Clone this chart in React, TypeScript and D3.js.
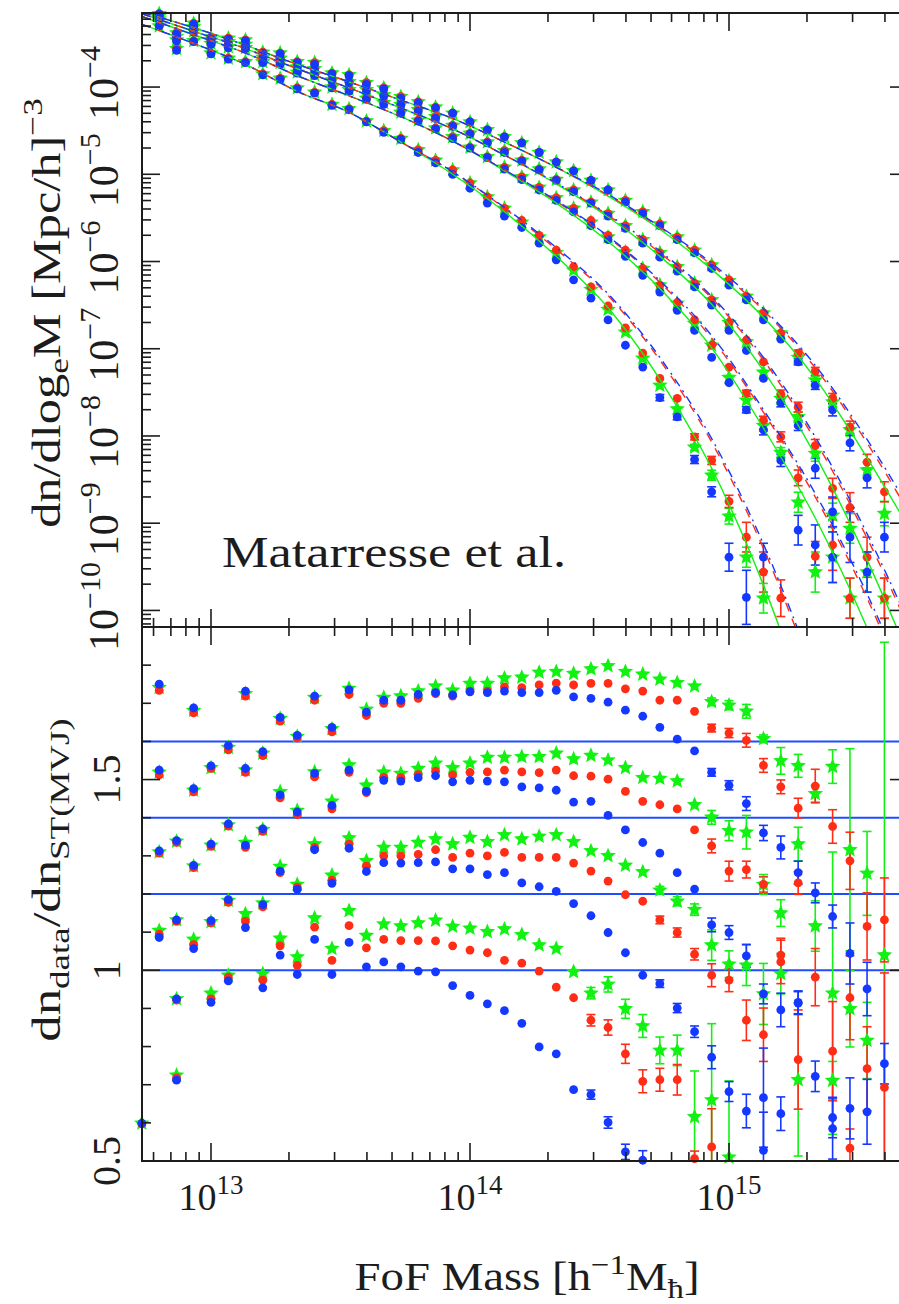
import React from "react";
import * as d3 from "d3";

type Vals = (number | null)[];
type Errs = Record<number, number>;

// ---- axes ----
const massMin = 5.415e12;
const massMax = 4.91e15;
const logDnMin = -10.19;
const logDnMax = -3.151;
const ratioMin = 0.5;
const ratioMax = 1.9;

const xDecades = [13, 14, 15];
const dnDecades = [-4, -5, -6, -7, -8, -9, -10];
const ratioLabels = ["0.5", "1", "1.5"];
const refLevels = [1.0, 1.2, 1.4, 1.6];

// log10 FoF mass at the bin centres
const binLogMass = [12.733, 12.8, 12.867, 12.933, 13.0, 13.067, 13.133, 13.2, 13.267, 13.333, 13.4, 13.467, 13.533, 13.6, 13.667, 13.733, 13.8, 13.867, 13.933, 14.0, 14.067, 14.133, 14.2, 14.267, 14.333, 14.4, 14.467, 14.533, 14.6, 14.667, 14.733, 14.8, 14.867, 14.933, 15.0, 15.067, 15.133, 15.2, 15.267, 15.333, 15.4, 15.467, 15.533, 15.6];

// log10 mass where the model curves are tabulated
const curveLogMass = [12.733, 12.933, 13.133, 13.333, 13.533, 13.733, 13.933, 14.133, 14.333, 14.533, 14.733, 14.933, 15.133, 15.333, 15.533, 15.733];

// ---- model curves, log10 dn/dlog_e M (snapshots A..D, A highest at large mass) ----
const modelGreenA = [-3.14, -3.32, -3.52, -3.74, -3.94, -4.15, -4.36, -4.63, -4.92, -5.25, -5.63, -6.09, -6.64, -7.34, -8.25, -9.25];
const modelGreenB = [-3.16, -3.36, -3.56, -3.79, -4.01, -4.24, -4.48, -4.78, -5.11, -5.49, -5.94, -6.49, -7.25, -8.22, -9.42, -10.8];
const modelGreenC = [-3.19, -3.4, -3.61, -3.87, -4.1, -4.34, -4.62, -4.96, -5.33, -5.77, -6.31, -6.99, -7.91, -8.94, -10.2, -11.72];
const modelGreenD = [-3.28, -3.5, -3.74, -4.05, -4.29, -4.63, -5.0, -5.43, -5.94, -6.53, -7.35, -8.37, -9.71, -11.37];
const modelRedA = [-3.14, -3.32, -3.52, -3.74, -3.94, -4.15, -4.36, -4.63, -4.92, -5.24, -5.61, -6.04, -6.56, -7.22, -8.08, -9.08];
const modelRedB = [-3.16, -3.36, -3.56, -3.79, -4.01, -4.24, -4.48, -4.78, -5.1, -5.47, -5.9, -6.42, -7.13, -8.05, -9.17, -10.46];
const modelRedC = [-3.19, -3.4, -3.61, -3.87, -4.1, -4.34, -4.62, -4.95, -5.31, -5.72, -6.24, -6.88, -7.73, -8.7, -9.86, -11.26];
const modelRedD = [-3.28, -3.5, -3.74, -4.05, -4.29, -4.63, -4.97, -5.39, -5.86, -6.39, -7.13, -8.07, -9.29, -10.8];
const modelBlueA = [-3.14, -3.32, -3.52, -3.74, -3.94, -4.15, -4.36, -4.63, -4.92, -5.23, -5.6, -6.02, -6.54, -7.19, -8.04, -9.02];
const modelBlueB = [-3.16, -3.36, -3.56, -3.79, -4.01, -4.24, -4.48, -4.78, -5.1, -5.46, -5.88, -6.4, -7.1, -8.01, -9.12, -10.4];
const modelBlueC = [-3.19, -3.4, -3.61, -3.87, -4.1, -4.34, -4.62, -4.95, -5.3, -5.71, -6.22, -6.85, -7.7, -8.66, -9.81, -11.2];
const modelBlueD = [-3.28, -3.5, -3.74, -4.05, -4.29, -4.63, -4.97, -5.38, -5.84, -6.37, -7.1, -8.03, -9.24, -10.74];

// ---- measured mass function, log10 dn/dlog_e M ----
const dnStarA: Vals = [null, -3.16, -3.38, -3.27, -3.43, -3.44, -3.46, -3.6, -3.61, -3.71, -3.72, -3.84, -3.86, -3.95, -4.01, -4.11, -4.17, -4.23, -4.3, -4.4, -4.49, -4.57, -4.64, -4.75, -4.86, -4.96, -5.07, -5.18, -5.3, -5.43, -5.57, -5.72, -5.87, -6.04, -6.22, -6.4, -6.59, -6.82, -7.1, -7.36, -7.61, -7.93, -8.39, -8.89];
const dnRedA: Vals = [null, -3.16, -3.38, -3.27, -3.43, -3.44, -3.46, -3.6, -3.61, -3.71, -3.72, -3.84, -3.86, -3.95, -4.01, -4.11, -4.17, -4.23, -4.3, -4.4, -4.49, -4.57, -4.64, -4.75, -4.86, -4.96, -5.07, -5.18, -5.3, -5.43, -5.57, -5.72, -5.87, -6.04, -6.21, -6.4, -6.59, -6.82, -7.05, -7.26, -7.57, -7.9, -8.3, -8.64];
const dnBlueA: Vals = [null, -3.16, -3.39, -3.28, -3.44, -3.45, -3.47, -3.61, -3.62, -3.72, -3.74, -3.85, -3.87, -3.97, -4.02, -4.13, -4.18, -4.24, -4.3, -4.4, -4.49, -4.57, -4.64, -4.75, -4.86, -4.96, -5.07, -5.18, -5.32, -5.45, -5.59, -5.75, -5.9, -6.08, -6.27, -6.44, -6.67, -6.89, -7.15, -7.42, -7.7, -8.08, -8.48, -9.16];
const dnStarB: Vals = [null, -3.19, -3.42, -3.31, -3.46, -3.48, -3.51, -3.66, -3.67, -3.77, -3.79, -3.92, -3.94, -4.03, -4.09, -4.2, -4.26, -4.34, -4.44, -4.53, -4.63, -4.73, -4.84, -4.94, -5.06, -5.18, -5.32, -5.45, -5.59, -5.75, -5.9, -6.06, -6.25, -6.44, -6.7, -6.92, -7.27, -7.57, -7.78, -8.2, -8.91, -9.06, -9.56, -9.86];
const dnRedB: Vals = [null, -3.19, -3.42, -3.31, -3.46, -3.48, -3.51, -3.66, -3.67, -3.77, -3.79, -3.92, -3.94, -4.03, -4.09, -4.2, -4.26, -4.34, -4.44, -4.53, -4.63, -4.73, -4.84, -4.94, -5.06, -5.18, -5.32, -5.45, -5.59, -5.75, -5.9, -6.06, -6.25, -6.44, -6.7, -6.9, -7.15, -7.52, -7.67, -8.11, -8.6, -8.82, -9.39, -9.86];
const dnBlueB: Vals = [null, -3.19, -3.43, -3.32, -3.47, -3.5, -3.52, -3.67, -3.68, -3.78, -3.81, -3.93, -3.95, -4.05, -4.1, -4.21, -4.28, -4.36, -4.45, -4.54, -4.64, -4.75, -4.85, -4.95, -5.07, -5.2, -5.33, -5.48, -5.62, -5.79, -5.95, -6.11, -6.29, -6.5, -6.79, -7.02, -7.34, -7.62, -7.88, -8.37, -8.87, -9.16, -9.56, null];
const dnStarC: Vals = [null, -3.22, -3.46, -3.36, -3.5, -3.54, -3.55, -3.71, -3.72, -3.83, -3.86, -4.0, -4.03, -4.13, -4.18, -4.29, -4.38, -4.47, -4.57, -4.69, -4.8, -4.92, -5.03, -5.15, -5.27, -5.39, -5.55, -5.72, -5.89, -6.08, -6.27, -6.48, -6.71, -6.96, -7.33, -7.59, -7.88, -8.19, -8.76, -9.56, -9.39, -9.86, null, null];
const dnRedC: Vals = [null, -3.22, -3.46, -3.36, -3.5, -3.54, -3.55, -3.71, -3.72, -3.83, -3.86, -4.0, -4.03, -4.13, -4.18, -4.29, -4.38, -4.47, -4.57, -4.69, -4.8, -4.92, -5.03, -5.15, -5.27, -5.39, -5.53, -5.7, -5.87, -6.08, -6.27, -6.47, -6.67, -6.96, -7.21, -7.51, -7.82, -8.01, -8.48, -9.38, -9.25, -9.86, null, null];
const dnBlueC: Vals = [null, -3.22, -3.47, -3.37, -3.51, -3.55, -3.56, -3.72, -3.74, -3.84, -3.87, -4.01, -4.05, -4.14, -4.2, -4.3, -4.39, -4.48, -4.59, -4.7, -4.81, -4.94, -5.06, -5.18, -5.3, -5.43, -5.59, -5.75, -5.94, -6.16, -6.35, -6.56, -6.79, -7.1, -7.39, -7.7, -7.93, -8.28, -9.08, -9.25, -9.39, null, null, null];
const dnStarD: Vals = [null, -3.3, -3.56, -3.47, -3.61, -3.67, -3.71, -3.85, -3.9, -4.01, -4.06, -4.2, -4.25, -4.39, -4.5, -4.59, -4.72, -4.84, -4.95, -5.1, -5.26, -5.39, -5.55, -5.72, -5.9, -6.1, -6.32, -6.55, -6.81, -7.11, -7.42, -7.69, -8.13, -8.45, -8.92, -9.39, -9.86, null, null, null, null, null, null, null];
const dnRedD: Vals = [null, -3.3, -3.56, -3.47, -3.61, -3.67, -3.71, -3.85, -3.9, -4.01, -4.06, -4.2, -4.25, -4.39, -4.5, -4.59, -4.72, -4.84, -4.95, -5.1, -5.26, -5.39, -5.53, -5.7, -5.87, -6.06, -6.29, -6.51, -6.76, -7.05, -7.34, -7.57, -8.01, -8.28, -8.75, -9.16, -9.56, -9.86, null, null, null, null, null, null];
const dnBlueD: Vals = [null, -3.3, -3.58, -3.48, -3.62, -3.68, -3.72, -3.86, -3.91, -4.02, -4.07, -4.21, -4.26, -4.4, -4.52, -4.6, -4.75, -4.87, -5.0, -5.16, -5.33, -5.48, -5.61, -5.79, -5.98, -6.21, -6.42, -6.67, -6.96, -7.21, -7.56, -7.78, -8.27, -8.64, -9.39, -9.85, -9.39, null, null, null, null, null, null, null];

// half-length of the error bars in dex, by bin index
const dnErrStarA: Errs = { 38: 0.035, 39: 0.046, 40: 0.057, 41: 0.07, 42: 0.09, 43: 0.14 };
const dnErrRedA: Errs = { 38: 0.035, 39: 0.046, 40: 0.057, 41: 0.07, 42: 0.09, 43: 0.115 };
const dnErrBlueA: Errs = { 38: 0.035, 39: 0.046, 40: 0.07, 41: 0.09, 42: 0.115, 43: 0.17 };
const dnErrStarB: Errs = { 37: 0.046, 38: 0.057, 39: 0.09, 40: 0.14, 41: 0.17, 42: 0.23, 43: 0.23 };
const dnErrRedB: Errs = { 37: 0.046, 38: 0.057, 39: 0.07, 40: 0.115, 41: 0.17, 42: 0.23, 43: 0.23 };
const dnErrBlueB: Errs = { 37: 0.046, 38: 0.057, 39: 0.115, 40: 0.17, 41: 0.29, 42: 0.23 };
const dnErrStarC: Errs = { 36: 0.046, 37: 0.057, 38: 0.115, 39: 0.23, 40: 0.29, 41: 0.23 };
const dnErrRedC: Errs = { 35: 0.035, 36: 0.046, 37: 0.057, 38: 0.09, 39: 0.17, 40: 0.29, 41: 0.23 };
const dnErrBlueC: Errs = { 35: 0.035, 36: 0.057, 37: 0.07, 38: 0.17, 39: 0.23, 40: 0.29 };
const dnErrStarD: Errs = { 32: 0.035, 33: 0.057, 34: 0.09, 35: 0.115, 36: 0.17 };
const dnErrRedD: Errs = { 32: 0.035, 33: 0.046, 34: 0.07, 35: 0.17, 36: 0.23, 37: 0.21 };
const dnErrBlueD: Errs = { 30: 0.035, 31: 0.035, 32: 0.046, 33: 0.057, 34: 0.16, 35: 0.31, 36: 0.16 };

// ---- ratio to the ST(MVJ) prediction; snapshots A, B, C shifted up by 0.6, 0.4, 0.2 ----
const ratioStarA: Vals = [null, 1.741, 1.338, 1.681, 1.531, 1.584, 1.725, 1.569, 1.66, 1.613, 1.715, 1.633, 1.739, 1.684, 1.715, 1.719, 1.732, 1.745, 1.734, 1.752, 1.752, 1.766, 1.768, 1.781, 1.783, 1.778, 1.79, 1.798, 1.783, 1.776, 1.763, 1.754, 1.745, 1.704, 1.695, 1.679, 1.607, 1.549, 1.536, 1.463, 1.534, 1.316, 1.254, 1.04];
const ratioRedA: Vals = [null, 1.734, 1.335, 1.675, 1.529, 1.578, 1.719, 1.563, 1.653, 1.609, 1.708, 1.625, 1.723, 1.668, 1.7, 1.7, 1.713, 1.725, 1.719, 1.732, 1.732, 1.743, 1.741, 1.748, 1.753, 1.748, 1.752, 1.752, 1.738, 1.732, 1.708, 1.708, 1.679, 1.635, 1.622, 1.603, 1.537, 1.481, 1.425, 1.483, 1.377, 1.287, 1.115, 1.132];
const ratioBlueA: Vals = [null, 1.75, 1.34, 1.688, 1.536, 1.589, 1.732, 1.573, 1.663, 1.616, 1.719, 1.637, 1.735, 1.677, 1.708, 1.708, 1.723, 1.728, 1.722, 1.73, 1.728, 1.732, 1.728, 1.728, 1.734, 1.717, 1.713, 1.703, 1.682, 1.666, 1.637, 1.606, 1.575, 1.519, 1.485, 1.437, 1.36, 1.322, 1.256, 1.203, 1.141, 1.044, 0.951, 0.755];
const ratioStarB: Vals = [null, 1.519, 1.132, 1.472, 1.328, 1.381, 1.525, 1.369, 1.468, 1.419, 1.52, 1.443, 1.538, 1.485, 1.519, 1.516, 1.529, 1.543, 1.531, 1.543, 1.558, 1.558, 1.56, 1.56, 1.569, 1.554, 1.563, 1.551, 1.531, 1.505, 1.503, 1.496, 1.434, 1.401, 1.366, 1.362, 1.225, 1.15, 1.331, 1.116, 0.94, 0.899, 0.816, null];
const ratioRedB: Vals = [null, 1.512, 1.128, 1.468, 1.325, 1.378, 1.519, 1.364, 1.452, 1.408, 1.507, 1.423, 1.519, 1.466, 1.506, 1.505, 1.513, 1.522, 1.512, 1.519, 1.52, 1.525, 1.52, 1.518, 1.525, 1.51, 1.509, 1.501, 1.469, 1.443, 1.434, 1.423, 1.368, 1.326, 1.26, 1.264, 1.225, 1.04, 1.229, 0.982, 0.788, 0.928, 0.742, 0.693];
const ratioBlueB: Vals = [null, 1.525, 1.132, 1.476, 1.331, 1.384, 1.529, 1.371, 1.46, 1.415, 1.516, 1.432, 1.525, 1.469, 1.498, 1.496, 1.505, 1.51, 1.494, 1.498, 1.496, 1.494, 1.481, 1.478, 1.472, 1.441, 1.443, 1.406, 1.368, 1.335, 1.307, 1.256, 1.213, 1.119, 1.099, 1.038, 0.938, 0.896, 0.916, 0.722, 0.614, 0.638, 0.629, null];
const ratioStarC: Vals = [null, 1.31, 0.925, 1.273, 1.127, 1.183, 1.335, 1.176, 1.272, 1.225, 1.331, 1.249, 1.347, 1.287, 1.322, 1.322, 1.335, 1.344, 1.331, 1.348, 1.337, 1.355, 1.344, 1.351, 1.355, 1.337, 1.313, 1.3, 1.275, 1.258, 1.21, 1.181, 1.159, 1.066, 1.016, 1.013, 0.938, 0.991, 0.713, null, 0.711, null, null, null];
const ratioRedC: Vals = [null, 1.307, 0.922, 1.269, 1.124, 1.178, 1.322, 1.166, 1.256, 1.218, 1.322, 1.236, 1.331, 1.273, 1.3, 1.3, 1.304, 1.316, 1.296, 1.307, 1.3, 1.309, 1.296, 1.296, 1.296, 1.281, 1.26, 1.234, 1.198, 1.181, 1.132, 1.099, 1.042, 0.987, 0.974, 0.869, 0.831, 1.022, 0.766, null, null, 0.534, null, null];
const ratioBlueC: Vals = [null, 1.313, 0.925, 1.275, 1.13, 1.185, 1.328, 1.172, 1.26, 1.212, 1.316, 1.228, 1.32, 1.259, 1.282, 1.281, 1.282, 1.284, 1.266, 1.266, 1.251, 1.256, 1.229, 1.219, 1.207, 1.175, 1.143, 1.099, 1.046, 0.987, 0.965, 0.901, 0.839, 0.772, 0.682, 0.631, 0.666, 0.624, 0.914, null, 0.585, null, null, null];
const ratioStarD: Vals = [0.599, 1.104, 0.725, 1.081, 0.94, 0.987, 1.148, 0.991, 1.084, 1.035, 1.137, 1.057, 1.156, 1.091, 1.121, 1.116, 1.124, 1.131, 1.115, 1.11, 1.101, 1.108, 1.093, 1.066, 1.057, 0.996, 0.94, 0.963, 0.899, 0.854, 0.79, 0.79, 0.616, 0.66, 0.51, null, null, null, null, null, null, null, null, null];
const ratioRedD: Vals = [0.597, 1.095, 0.718, 1.067, 0.925, 0.982, 1.128, 0.974, 1.064, 1.013, 1.113, 1.026, 1.117, 1.059, 1.081, 1.078, 1.078, 1.077, 1.064, 1.053, 1.046, 1.026, 1.019, 0.998, 0.956, 0.928, 0.869, 0.85, 0.781, 0.709, 0.713, 0.713, 0.506, 0.537, null, null, null, null, null, null, null, null, null, null];
const ratioBlueD: Vals = [0.599, 1.086, 0.712, 1.057, 0.916, 0.972, 1.112, 0.954, 1.04, 0.989, 1.081, 0.989, 1.073, 1.009, 1.022, 1.009, 0.998, 0.996, 0.96, 0.934, 0.912, 0.894, 0.861, 0.799, 0.781, 0.687, 0.674, 0.601, 0.524, 0.502, null, null, null, null, null, null, 0.528, null, null, null, null, null, null, null];

const ratioErrStarA: Errs = { 33: 0.01, 34: 0.012, 35: 0.018, 36: 0.01, 37: 0.035, 38: 0.03, 39: 0.022, 40: 0.044, 41: 0.265, 42: 0.11, 43: 0.82 };
const ratioErrRedA: Errs = { 33: 0.01, 34: 0.012, 35: 0.018, 36: 0.018, 37: 0.018, 38: 0.026, 39: 0.044, 40: 0.044, 41: 0.075, 42: 0.088, 43: 0.11 };
const ratioErrBlueA: Errs = { 33: 0.01, 34: 0.012, 35: 0.018, 36: 0.02, 37: 0.03, 38: 0.03, 39: 0.026, 40: 0.03, 41: 0.08, 42: 0.07, 43: 0.053 };
const ratioErrStarB: Errs = { 33: 0.018, 34: 0.026, 35: 0.044, 36: 0.026, 37: 0.035, 38: 0.044, 39: 0.066, 40: 0.37, 41: 0.1, 42: 0.1 };
const ratioErrRedB: Errs = { 33: 0.018, 34: 0.026, 35: 0.022, 36: 0.02, 37: 0.044, 38: 0.03, 39: 0.075, 40: 0.13, 41: 0.11, 42: 0.11, 43: 0.3 };
const ratioErrBlueB: Errs = { 33: 0.018, 34: 0.018, 35: 0.03, 36: 0.026, 37: 0.044, 38: 0.03, 39: 0.04, 40: 0.053, 41: 0.08, 42: 0.085 };
const ratioErrStarC: Errs = { 30: 0.01, 31: 0.012, 32: 0.015, 33: 0.04, 34: 0.035, 35: 0.053, 36: 0.08, 37: 0.053, 38: 0.2, 40: 0.05 };
const ratioErrRedC: Errs = { 30: 0.01, 31: 0.012, 32: 0.015, 33: 0.03, 34: 0.03, 35: 0.053, 36: 0.07, 37: 0.057, 38: 0.13, 41: 0.05 };
const ratioErrBlueC: Errs = { 30: 0.01, 31: 0.012, 32: 0.015, 33: 0.03, 34: 0.026, 35: 0.044, 36: 0.13, 37: 0.044, 38: 0.03, 40: 0.08 };
const ratioErrStarD: Errs = { 26: 0.015, 27: 0.02, 28: 0.025, 29: 0.03, 30: 0.035, 31: 0.04, 32: 0.12, 33: 0.2, 34: 0.2 };
const ratioErrRedD: Errs = { 26: 0.015, 27: 0.02, 28: 0.025, 29: 0.03, 30: 0.03, 31: 0.04, 32: 0.02, 33: 0.1 };
const ratioErrBlueD: Errs = { 26: 0.012, 27: 0.015, 28: 0.02, 29: 0.025, 36: 0.1 };

// ---- styling ----
const GREEN = "#12f212";
const RED = "#ff2c16";
const BLUE = "#1438ff";
const INK = "#1c1c1c";
const FONT = "'Liberation Serif', 'DejaVu Serif', serif";

const LEFT = 142;
const RIGHT = 908;
const TOP = 13;
const SPLIT = 627;
const BOTTOM = 1161;

type Shape = "star" | "dot";
interface Series { color: string; shape: Shape; vals: Vals; errs: Errs }

const dnSeries: Series[] = [
  { color: GREEN, shape: "star", vals: dnStarA, errs: dnErrStarA },
  { color: GREEN, shape: "star", vals: dnStarB, errs: dnErrStarB },
  { color: GREEN, shape: "star", vals: dnStarC, errs: dnErrStarC },
  { color: GREEN, shape: "star", vals: dnStarD, errs: dnErrStarD },
  { color: RED, shape: "dot", vals: dnRedA, errs: dnErrRedA },
  { color: RED, shape: "dot", vals: dnRedB, errs: dnErrRedB },
  { color: RED, shape: "dot", vals: dnRedC, errs: dnErrRedC },
  { color: RED, shape: "dot", vals: dnRedD, errs: dnErrRedD },
  { color: BLUE, shape: "dot", vals: dnBlueA, errs: dnErrBlueA },
  { color: BLUE, shape: "dot", vals: dnBlueB, errs: dnErrBlueB },
  { color: BLUE, shape: "dot", vals: dnBlueC, errs: dnErrBlueC },
  { color: BLUE, shape: "dot", vals: dnBlueD, errs: dnErrBlueD },
];

const ratioSeries: Series[] = [
  { color: GREEN, shape: "star", vals: ratioStarA, errs: ratioErrStarA },
  { color: GREEN, shape: "star", vals: ratioStarB, errs: ratioErrStarB },
  { color: GREEN, shape: "star", vals: ratioStarC, errs: ratioErrStarC },
  { color: GREEN, shape: "star", vals: ratioStarD, errs: ratioErrStarD },
  { color: RED, shape: "dot", vals: ratioRedA, errs: ratioErrRedA },
  { color: RED, shape: "dot", vals: ratioRedB, errs: ratioErrRedB },
  { color: RED, shape: "dot", vals: ratioRedC, errs: ratioErrRedC },
  { color: RED, shape: "dot", vals: ratioRedD, errs: ratioErrRedD },
  { color: BLUE, shape: "dot", vals: ratioBlueA, errs: ratioErrBlueA },
  { color: BLUE, shape: "dot", vals: ratioBlueB, errs: ratioErrBlueB },
  { color: BLUE, shape: "dot", vals: ratioBlueC, errs: ratioErrBlueC },
  { color: BLUE, shape: "dot", vals: ratioBlueD, errs: ratioErrBlueD },
];

const modelLines = [
  { color: GREEN, dash: "none", vals: [modelGreenA, modelGreenB, modelGreenC, modelGreenD] },
  { color: RED, dash: "9,8", vals: [modelRedA, modelRedB, modelRedC, modelRedD] },
  { color: BLUE, dash: "9,5,2,5", vals: [modelBlueA, modelBlueB, modelBlueC, modelBlueD] },
];

const isDecade = (v: number) => Math.abs(Math.log10(v) - Math.round(Math.log10(v))) < 1e-6;

// five-pointed star marker, outer radius 8.2 px
const starPath = (() => {
  const pts: [number, number][] = d3.range(10).map((i) => {
    const a = (i * Math.PI) / 5;
    const r = i % 2 === 0 ? 8.2 : 3.7;
    return [a, r];
  });
  return d3.lineRadial().angle((d) => d[0]).radius((d) => d[1]).curve(d3.curveLinearClosed)(pts) as string;
})();

export default function App() {
  const x = d3.scaleLog().domain([massMin, massMax]).range([LEFT, RIGHT]);
  const yDn = d3.scaleLog().domain([Math.pow(10, logDnMin), Math.pow(10, logDnMax)]).range([SPLIT, TOP]);
  const yRatio = d3.scaleLinear().domain([ratioMin, ratioMax]).range([BOTTOM, SPLIT]);

  const mass = binLogMass.map((v) => Math.pow(10, v));
  const curveMass = curveLogMass.map((v) => Math.pow(10, v));

  const line = d3
    .line<[number, number]>()
    .x((d) => d[0])
    .y((d) => d[1])
    .curve(d3.curveMonotoneX);

  const xTicks = x.ticks();
  const dnTicks = yDn.ticks();
  const ratioTicks = yRatio.ticks(14);

  const marker = (s: Series, cx: number, cy: number, key: string) =>
    s.shape === "star" ? (
      <path key={key} d={starPath} transform={`translate(${cx},${cy})`} fill={s.color} />
    ) : (
      <circle key={key} cx={cx} cy={cy} r={4.4} fill={s.color} />
    );

  const errBar = (color: string, cx: number, y1: number, y2: number, key: string) => (
    <g key={key} stroke={color} strokeWidth={1.6}>
      <line x1={cx} x2={cx} y1={y1} y2={y2} />
      <line x1={cx - 4.5} x2={cx + 4.5} y1={y1} y2={y1} />
      <line x1={cx - 4.5} x2={cx + 4.5} y1={y2} y2={y2} />
    </g>
  );

  const dnMarks = (s: Series, si: number) =>
    s.vals.map((v, i) => {
      if (v == null || v < logDnMin || v > logDnMax + 0.05) return null;
      return marker(s, x(mass[i]), yDn(Math.pow(10, v)), `dn${si}-${i}`);
    });

  const dnErrs = (s: Series, si: number) =>
    Object.entries(s.errs).map(([k, e]) => {
      const i = Number(k);
      const v = s.vals[i];
      if (v == null) return null;
      return errBar(s.color, x(mass[i]), yDn(Math.pow(10, v + e)), yDn(Math.pow(10, v - e)), `dne${si}-${i}`);
    });

  const ratioMarks = (s: Series, si: number) =>
    s.vals.map((v, i) => {
      if (v == null || v < ratioMin || v > ratioMax) return null;
      return marker(s, x(mass[i]), yRatio(v), `r${si}-${i}`);
    });

  const ratioErrs = (s: Series, si: number) =>
    Object.entries(s.errs).map(([k, e]) => {
      const i = Number(k);
      const v = s.vals[i];
      if (v == null) return null;
      return errBar(s.color, x(mass[i]), yRatio(v + e), yRatio(v - e), `re${si}-${i}`);
    });

  const tickLen = (major: boolean) => (major ? 18 : 9);

  return (
    <svg
      width={899}
      height={1304}
      viewBox="0 0 899 1304"
      style={{ position: "absolute", left: 0, top: 0, background: "#fff" }}
      fontFamily={FONT}
    >
      <defs>
        <clipPath id="clip-dn">
          <rect x={LEFT} y={TOP} width={RIGHT - LEFT} height={SPLIT - TOP} />
        </clipPath>
        <clipPath id="clip-ratio">
          <rect x={LEFT} y={SPLIT} width={RIGHT - LEFT} height={BOTTOM - SPLIT} />
        </clipPath>
      </defs>
      <rect x={0} y={0} width={899} height={1304} fill="#fff" />

      {/* reference levels of the ratio panel */}
      <g clipPath="url(#clip-ratio)">
        {refLevels.map((r) => (
          <line key={r} x1={LEFT} x2={RIGHT} y1={yRatio(r)} y2={yRatio(r)} stroke="#1f4cff" strokeWidth={2} />
        ))}
      </g>

      {/* error bars */}
      <g clipPath="url(#clip-dn)">{dnSeries.map((s, si) => dnErrs(s, si))}</g>
      <g clipPath="url(#clip-ratio)">{ratioSeries.map((s, si) => ratioErrs(s, si))}</g>

      {/* data points */}
      <g>{dnSeries.map((s, si) => dnMarks(s, si))}</g>
      <g>{ratioSeries.map((s, si) => ratioMarks(s, si))}</g>

      {/* model curves */}
      <g clipPath="url(#clip-dn)" fill="none">
        {modelLines.map((m, mi) =>
          m.vals.map((vals, gi) => (
            <path
              key={`m${mi}-${gi}`}
              d={line(vals.map((v, i) => [x(curveMass[i]), yDn(Math.pow(10, v))] as [number, number])) || ""}
              stroke={m.color}
              strokeWidth={1.4}
              strokeDasharray={m.dash}
            />
          ))
        )}
      </g>

      {/* frames */}
      <g fill="none" stroke={INK} strokeWidth={2}>
        <rect x={LEFT} y={TOP} width={RIGHT - LEFT} height={SPLIT - TOP} />
        <rect x={LEFT} y={SPLIT} width={RIGHT - LEFT} height={BOTTOM - SPLIT} />
      </g>

      {/* ticks */}
      <g stroke={INK} strokeWidth={1.6}>
        {xTicks.map((t, i) => {
          const px = x(t);
          const L = tickLen(isDecade(t));
          return (
            <g key={`xt${i}`}>
              <line x1={px} x2={px} y1={TOP} y2={TOP + L} />
              <line x1={px} x2={px} y1={SPLIT} y2={SPLIT - L} />
              <line x1={px} x2={px} y1={SPLIT} y2={SPLIT + L} />
              <line x1={px} x2={px} y1={BOTTOM} y2={BOTTOM - L} />
            </g>
          );
        })}
        {dnTicks.map((t, i) => {
          const py = yDn(t);
          const L = tickLen(isDecade(t));
          return (
            <g key={`yt${i}`}>
              <line x1={LEFT} x2={LEFT + L} y1={py} y2={py} />
              <line x1={RIGHT} x2={RIGHT - L} y1={py} y2={py} />
            </g>
          );
        })}
        {ratioTicks.map((t, i) => {
          const py = yRatio(t);
          const major = Math.abs(t * 2 - Math.round(t * 2)) < 1e-6;
          const L = tickLen(major);
          return (
            <g key={`rt${i}`}>
              <line x1={LEFT} x2={LEFT + L} y1={py} y2={py} />
              <line x1={RIGHT} x2={RIGHT - L} y1={py} y2={py} />
            </g>
          );
        })}
      </g>

      {/* tick labels */}
      <g fill={INK}>
        {dnDecades.map((k) => {
          const py = yDn(Math.pow(10, k));
          return (
            <text key={`dl${k}`} transform={`translate(118,${py - 4}) rotate(-90)`} textAnchor="middle" fontSize={42}>
              10
              <tspan fontSize={30} dy={-18}>
                {`\u2212${-k}`}
              </tspan>
            </text>
          );
        })}
        {ratioLabels.map((s) => (
          <text key={`rl${s}`} transform={`translate(120,${yRatio(Number(s))}) rotate(-90)`} textAnchor="middle" fontSize={40}>
            {s}
          </text>
        ))}
        {xDecades.map((k) => (
          <text key={`xl${k}`} x={x(Math.pow(10, k))} y={1210} textAnchor="middle" fontSize={38}>
            10
            <tspan fontSize={27} dy={-16}>
              {k}
            </tspan>
          </text>
        ))}
      </g>

      {/* axis titles and annotation */}
      <g fill={INK}>
        <g transform="translate(60,313) rotate(-90) scale(1.26,1)">
          <text textAnchor="middle" fontSize={40}>
            dn/dlog
            <tspan fontSize={28} dy={8}>e</tspan>
            <tspan dy={-8}>M [Mpc/h]</tspan>
            <tspan fontSize={28} dy={-18}>{"\u22123"}</tspan>
          </text>
        </g>
        <g transform="translate(60,880) rotate(-90) scale(1.32,1)">
          <text textAnchor="middle" fontSize={40}>
            dn
            <tspan fontSize={28} dy={9}>data</tspan>
            <tspan dy={-9}>/dn</tspan>
            <tspan fontSize={28} dy={9}>ST(MVJ)</tspan>
          </text>
        </g>
        <g transform="translate(527,1290) scale(1.17,1)">
          <text textAnchor="middle" fontSize={40}>
            FoF Mass [h
            <tspan fontSize={28} dy={-16}>{"\u22121"}</tspan>
            <tspan dy={16}>M</tspan>
            <tspan fontSize={28} dy={8}>ħ</tspan>
            <tspan dy={-8}>]</tspan>
          </text>
        </g>
        <text x={222} y={567} fontSize={44} textLength={344} lengthAdjust="spacingAndGlyphs">
          Matarresse et al.
        </text>
      </g>
    </svg>
  );
}
